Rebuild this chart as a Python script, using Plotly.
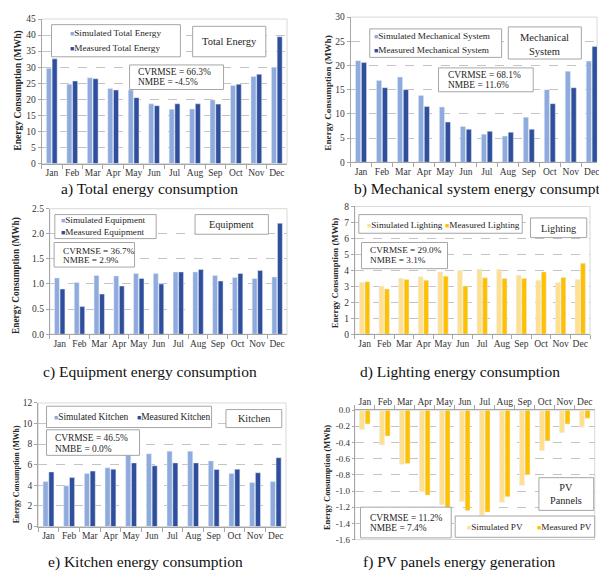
import plotly.graph_objects as go

W, H = 599, 577
FONT = "Liberation Serif, Times New Roman, serif"

months = ["Jan", "Feb", "Mar", "Apr", "May", "Jun", "Jul", "Aug", "Sep", "Oct", "Nov", "Dec"]

total_sim = [29.7, 24.7, 26.7, 23.4, 22.9, 18.6, 16.9, 17.0, 19.8, 24.3, 27.1, 30.0]
total_meas = [32.6, 25.7, 26.4, 22.9, 20.5, 18.0, 18.6, 18.6, 18.5, 24.7, 27.8, 39.5]

mech_sim = [21.0, 16.9, 17.6, 13.8, 11.4, 7.4, 5.8, 5.4, 9.3, 15.0, 18.8, 20.9]
mech_meas = [20.6, 15.4, 15.0, 11.5, 8.3, 6.8, 6.4, 6.2, 6.8, 12.1, 15.4, 23.9]

equip_sim = [1.12, 1.03, 1.17, 1.16, 1.21, 1.21, 1.24, 1.24, 1.17, 1.13, 1.11, 1.14]
equip_meas = [0.90, 0.55, 0.80, 0.96, 1.11, 1.00, 1.24, 1.29, 1.06, 1.21, 1.27, 2.21]

light_sim = [3.24, 3.02, 3.49, 3.59, 3.90, 4.00, 4.06, 4.06, 3.69, 3.38, 3.22, 3.43]
light_meas = [3.28, 2.83, 3.43, 3.38, 3.63, 3.02, 3.53, 3.49, 3.49, 3.90, 3.55, 4.45]

kitchen_sim = [4.36, 3.95, 5.16, 5.70, 7.00, 7.07, 7.32, 7.32, 6.37, 5.16, 4.27, 4.36]
kitchen_meas = [5.30, 4.75, 5.38, 5.57, 6.18, 5.90, 6.18, 6.18, 5.54, 5.57, 5.22, 6.69]

pv_sim = [-0.24, -0.43, -0.67, -1.01, -1.17, -1.13, -1.30, -1.14, -0.93, -0.50, -0.28, -0.21]
pv_meas = [-0.17, -0.32, -0.66, -1.05, -1.22, -1.24, -1.26, -1.07, -0.80, -0.38, -0.17, -0.10]
pv_ticks = [0.0, -0.2, -0.4, -0.6, -0.8, -1.0, -1.2, -1.4, -1.6]

SIM_BLUE = "#8FAADC"
MEAS_BLUE = "#2F4E9B"
SIM_YEL = "#FFE08F"
MEAS_YEL = "#FFC000"


def px(x):
    return x / W


def py(y):
    return 1 - y / H


panels = [
    dict(sim=total_sim, meas=total_meas, names=("Simulated Total Energy", "Measured Total Energy"),
         colors=(SIM_BLUE, MEAS_BLUE), xd=(41.7, 288), yd=(14.3, 161.3), yr=[0, 45], dt=5, fmt="d",
         xr=[-0.5, 11.5], title_x=18.3, title_y=87, title_size=9.6, tick_size=9.5),
    dict(sim=mech_sim, meas=mech_meas, names=("Simulated Mechanical System", "Measured Mechanical System"),
         colors=(SIM_BLUE, MEAS_BLUE), xd=(351.7, 599), yd=(12.3, 160), yr=[0, 30], dt=5, fmt="d",
         xr=[-0.5, 11.25], title_x=329.3, title_y=90, title_size=9.2, tick_size=9.5),
    dict(sim=equip_sim, meas=equip_meas, names=("Simulated Equipment", "Measured Equipment"),
         colors=(SIM_BLUE, MEAS_BLUE), xd=(50, 288), yd=(207.3, 335), yr=[0, 2.5], dt=0.5, fmt=".1f",
         xr=[-0.5, 11.5], title_x=16.7, title_y=275, title_size=9.3, tick_size=9.5),
    dict(sim=light_sim, meas=light_meas, names=("Simulated Lighting", "Measured Lighting"),
         colors=(SIM_YEL, MEAS_YEL), xd=(356, 592), yd=(205, 335), yr=[0, 8], dt=1, fmt="d",
         xr=[-0.5, 11.5], title_x=336, title_y=272, title_size=8.8, tick_size=9.5),
    dict(sim=kitchen_sim, meas=kitchen_meas, names=("Simulated Kitchen", "Measured Kitchen"),
         colors=(SIM_BLUE, MEAS_BLUE), xd=(38.3, 287), yd=(405, 530.7), yr=[0, 12], dt=2, fmt="d",
         xr=[-0.5, 11.5], title_x=16.7, title_y=478, title_size=7.8, tick_size=9.5),
    dict(sim=pv_sim, meas=pv_meas, names=("Simulated PV", "Measured PV"),
         colors=(SIM_YEL, MEAS_YEL), xd=(356, 596.7), yd=(412.3, 544), yr=[-1.6, 0], dt=0.2, fmt=".1f",
         xr=[-0.5, 11.5], title_x=328.5, title_y=481, title_size=8.4, tick_size=9),
]

fig = go.Figure()
layout = dict(
    width=W, height=H, margin=dict(l=0, r=0, t=0, b=0),
    paper_bgcolor="white", plot_bgcolor="white",
    barmode="group", bargap=0.44, bargroupgap=0.12,
    showlegend=False, font=dict(family=FONT, size=9.5, color="#333333"),
)
shapes = []
annotations = []

for i, p in enumerate(panels, start=1):
    sfx = "" if i == 1 else str(i)
    xa, ya = "x" + sfx, "y" + sfx
    fig.add_trace(go.Bar(x=months, y=p["sim"], name=p["names"][0], marker_color=p["colors"][0],
                         xaxis=xa, yaxis=ya, showlegend=False))
    fig.add_trace(go.Bar(x=months, y=p["meas"], name=p["names"][1], marker_color=p["colors"][1],
                         xaxis=xa, yaxis=ya, showlegend=False))
    layout["xaxis" + sfx] = dict(
        domain=[px(p["xd"][0]), px(min(p["xd"][1], W))], anchor=ya, type="category",
        range=p["xr"], showline=True, linecolor="#A6A6A6", linewidth=1,
        ticks="outside", tickson="boundaries", ticklen=4, tickcolor="#A6A6A6", tickangle=0,
        tickfont=dict(family=FONT, size=9.5, color="#333333"), showgrid=False, zeroline=False,
        fixedrange=True, side="top" if i == 6 else "bottom",
    )
    yax = dict(
        domain=[py(p["yd"][1]), py(p["yd"][0])], anchor=xa, range=p["yr"],
        showline=True, linecolor="#A6A6A6", linewidth=1, ticks="outside", ticklen=3,
        tickcolor="#A6A6A6", showgrid=True, gridcolor="#C4C4C4", griddash="dash", gridwidth=1,
        zeroline=False, tickfont=dict(family=FONT, size=p["tick_size"], color="#333333"), fixedrange=True,
    )
    if i == 6:
        yax["tickvals"] = pv_ticks
        yax["ticktext"] = [f"{v:.1f}" for v in pv_ticks]
        yax["ticklen"] = 2
    else:
        yax["dtick"] = p["dt"]
        yax["tick0"] = 0
        yax["tickformat"] = p["fmt"]
    layout["yaxis" + sfx] = yax
    # plot frame
    shapes.append(dict(type="rect", xref="paper", yref="paper", layer="below",
                       x0=px(p["xd"][0]), x1=px(p["xd"][1]), y0=py(p["yd"][1]), y1=py(p["yd"][0]),
                       line=dict(color="#D9D9D9", width=1), fillcolor="rgba(0,0,0,0)"))
    annotations.append(dict(text="<b>Energy Consumption (MWh)</b>", x=px(p["title_x"]), y=py(p["title_y"]),
                            xref="paper", yref="paper", textangle=-90, showarrow=False,
                            xanchor="center", yanchor="middle",
                            font=dict(family=FONT, size=p["title_size"], color="#262626")))


def box(x0, y0, x1, y1):
    shapes.append(dict(type="rect", xref="paper", yref="paper", layer="above",
                       x0=px(x0), x1=px(x1), y0=py(y1), y1=py(y0),
                       line=dict(color="#A6A6A6", width=1), fillcolor="white"))


def text(x, y, t, size=9.2, anchor="left"):
    annotations.append(dict(text=t, x=px(x), y=py(y), xref="paper", yref="paper", showarrow=False,
                            xanchor=anchor, yanchor="middle", align="center" if anchor == "center" else "left",
                            font=dict(family=FONT, size=size, color="#262626")))


def key(color, label):
    return f'<span style="color:{color};font-size:7px">■</span>{label}'


# a) Total energy
box(51.7, 20, 181, 52.7)
text(68, 28.7, key(SIM_BLUE, panels[0]["names"][0]), 9.2)
text(68, 43.3, key(MEAS_BLUE, panels[0]["names"][1]), 9.2)
box(193.3, 21.7, 266.7, 52.7)
text(230, 37.3, "Total Energy", 10.5, "center")
box(130, 61, 224.3, 86)
text(136.5, 68.3, "CVRMSE = 66.3%", 9.4)
text(136.5, 78.7, "NMBE = -4.5%", 9.4)

# b) Mechanical system
box(371, 24.3, 503.3, 53.3)
text(373, 32, key(SIM_BLUE, panels[1]["names"][0]), 9.2)
text(373, 46, key(MEAS_BLUE, panels[1]["names"][1]), 9.2)
box(510, 22.3, 583.3, 55)
text(546.7, 40.5, "Mechanical<br>System", 10.5, "center")
box(440, 64, 535, 88.3)
text(447, 71, "CVRMSE = 68.1%", 9.4)
text(447, 81, "NMBE = 11.6%", 9.4)

# c) Equipment
box(55, 213.3, 156.7, 237.7)
text(59, 219.3, key(SIM_BLUE, panels[2]["names"][0]), 9.2)
text(59, 230.7, key(MEAS_BLUE, panels[2]["names"][1]), 9.2)
box(195.7, 213.3, 269.3, 233.3)
text(232.3, 223.5, "Equipment", 10.2, "center")
box(54.3, 241.7, 135, 266.7)
text(61.5, 250.7, "CVRMSE = 36.7%", 9.2)
text(61.5, 260, "NMBE = 2.9%", 9.2)

# d) Lighting
box(360, 213.3, 524, 232.3)
text(366, 223.5, key(SIM_YEL, panels[3]["names"][0]), 9.2)
text(444, 223.5, key(MEAS_YEL, panels[3]["names"][1]), 9.2)
box(532.3, 216.7, 588.7, 236.7)
text(560, 227, "Lighting", 10.2, "center")
box(362.7, 241.7, 449, 268.3)
text(369.5, 249.3, "CVRMSE = 29.0%", 9.2)
text(369.5, 260, "NMBE = 3.1%", 9.2)

# e) Kitchen
box(46.7, 408.3, 212.3, 430)
text(52, 419.3, key(SIM_BLUE, panels[4]["names"][0]), 9.4)
text(135, 419.3, key(MEAS_BLUE, panels[4]["names"][1]), 9.4)
box(226.7, 411.7, 282.7, 430)
text(254.7, 421, "Kitchen", 10.2, "center")
box(46.7, 432.3, 140, 458.3)
text(53.5, 441, "CVRMSE = 46.5%", 9.4)
text(53.5, 451.7, "NMBE = 0.0%", 9.4)

# f) PV panels
box(456.7, 520, 596.7, 541.7)
text(467, 531, key(SIM_YEL, panels[5]["names"][0]), 9.2)
text(537, 531, key(MEAS_YEL, panels[5]["names"][1]), 9.2)
box(540.7, 481, 595.7, 514.3)
text(568.2, 497.7, "PV<br>Pannels", 10.2, "center")
box(361.7, 511, 452.7, 542.3)
text(369, 522, "CVRMSE = 11.2%", 9.4)
text(369, 532.7, "NMBE = 7.4%", 9.4)

# captions
captions = [
    ("a) Total energy consumption", 59, 187),
    ("b) Mechanical system energy consumption", 353, 187),
    ("c) Equipment energy consumption", 41, 373),
    ("d) Lighting energy consumption", 359, 373),
    ("e) Kitchen energy consumption", 46, 567),
    ("f) PV panels energy generation", 362, 567),
]
for t, x, y in captions:
    annotations.append(dict(text=t, x=px(x), y=py(y), xref="paper", yref="paper", showarrow=False,
                            xanchor="left", yanchor="middle",
                            font=dict(family=FONT, size=15.5, color="#111111")))

layout["shapes"] = shapes
layout["annotations"] = annotations
fig.update_layout(**layout)
fig.write_html(
    "out.html",
    config={"displayModeBar": False},
    post_script="document.body.style.margin='0';document.body.style.overflow='hidden';",
)
